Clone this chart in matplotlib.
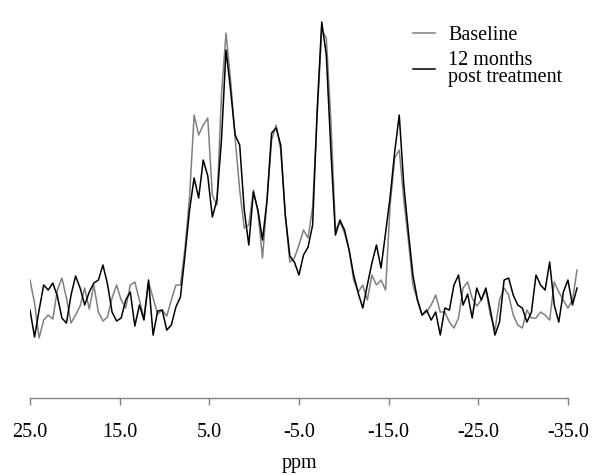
"""31P spectrum: baseline vs 12 months post treatment."""

import matplotlib

matplotlib.use("Agg")
import matplotlib.pyplot as plt
import numpy as np

plt.rcParams["font.family"] = ["Liberation Serif", "DejaVu Serif"]

# chemical shift grid (ppm), spectrum runs from 25 to -36 ppm
ppm = np.linspace(25.0, -36.0, 121)

# baseline spectrum (arbitrary units)
baseline = [
    120, 97, 62, 80, 85, 81, 110, 122, 102, 77,
    85, 94, 112, 91, 115, 88, 79, 83, 102, 115,
    100, 92, 115, 118, 100, 82, 118, 102, 86, 90,
    84, 100, 115, 115, 152, 203, 285, 265, 275, 282,
    205, 195, 305, 367, 320, 262, 210, 172, 175, 210,
    188, 142, 200, 260, 275, 250, 185, 138, 142, 155,
    170, 162, 193, 285, 370, 362, 280, 170, 178, 167,
    150, 120, 108, 115, 100, 125, 115, 120, 110, 195,
    242, 250, 200, 160, 115, 100, 85, 88, 95, 105,
    88, 88, 78, 72, 82, 112, 118, 102, 94, 100,
    110, 85, 70, 100, 112, 105, 85, 75, 72, 90,
    82, 82, 88, 85, 80, 118, 108, 100, 92, 100,
    130,
]

# 12 months post treatment (arbitrary units)
post = [
    90, 63, 90, 115, 110, 117, 104, 82, 77, 105,
    124, 112, 95, 108, 117, 120, 135, 116, 88, 79,
    82, 100, 108, 74, 95, 80, 120, 65, 89, 90,
    70, 75, 93, 103, 145, 190, 222, 202, 240, 224,
    183, 200, 260, 350, 310, 265, 255, 190, 155, 208,
    190, 160, 200, 267, 272, 255, 185, 144, 138, 125,
    145, 153, 175, 290, 378, 345, 250, 165, 180, 170,
    150, 125, 107, 92, 115, 137, 155, 132, 167, 203,
    248, 285, 215, 168, 125, 100, 85, 90, 80, 88,
    65, 92, 90, 115, 125, 95, 106, 82, 112, 100,
    112, 90, 65, 78, 120, 122, 105, 95, 92, 78,
    88, 125, 115, 110, 138, 95, 78, 108, 120, 95,
    112,
]

tick_pos = [25, 15, 5, -5, -15, -25, -35]
tick_labels = ["25.0", "15.0", "5.0", "-5.0", "-15.0", "-25.0", "-35.0"]

fig = plt.figure(figsize=(6, 4.75), dpi=100)
ax = fig.add_axes([0.05, 0.162, 0.9147, 0.838])

ax.plot(ppm, baseline, color="#808080", lw=1.1, label="Baseline")
ax.plot(ppm, post, color="black", lw=1.1, label="12 months\npost treatment")

ax.set_xlim(25, -36.2)
ax.set_ylim(2, 400)

# only the bottom axis is shown, from 25 to -35 ppm
for side in ["left", "right", "top"]:
    ax.spines[side].set_visible(False)
ax.spines["bottom"].set_bounds(25, -35)
ax.spines["bottom"].set_color("#808080")
ax.spines["bottom"].set_linewidth(1.0)
ax.set_yticks([])
ax.set_xticks(tick_pos)
ax.set_xticklabels(tick_labels)
ax.tick_params(axis="x", direction="out", length=5, width=1.0,
               color="#808080", labelsize=14.5, pad=13)
ax.set_xlabel("ppm", fontsize=14.5, labelpad=10)
ax.xaxis.set_label_coords(538 / 2 / 548.8, -0.14)

leg = ax.legend(loc="upper left", bbox_to_anchor=(0.698, 0.935),
                frameon=False, fontsize=14.5, handlelength=1.1,
                handletextpad=0.65, borderpad=0, borderaxespad=0,
                labelspacing=0.3)
for t in leg.get_texts():
    t.set_linespacing(0.85)

plt.savefig("out.png", dpi=100)
